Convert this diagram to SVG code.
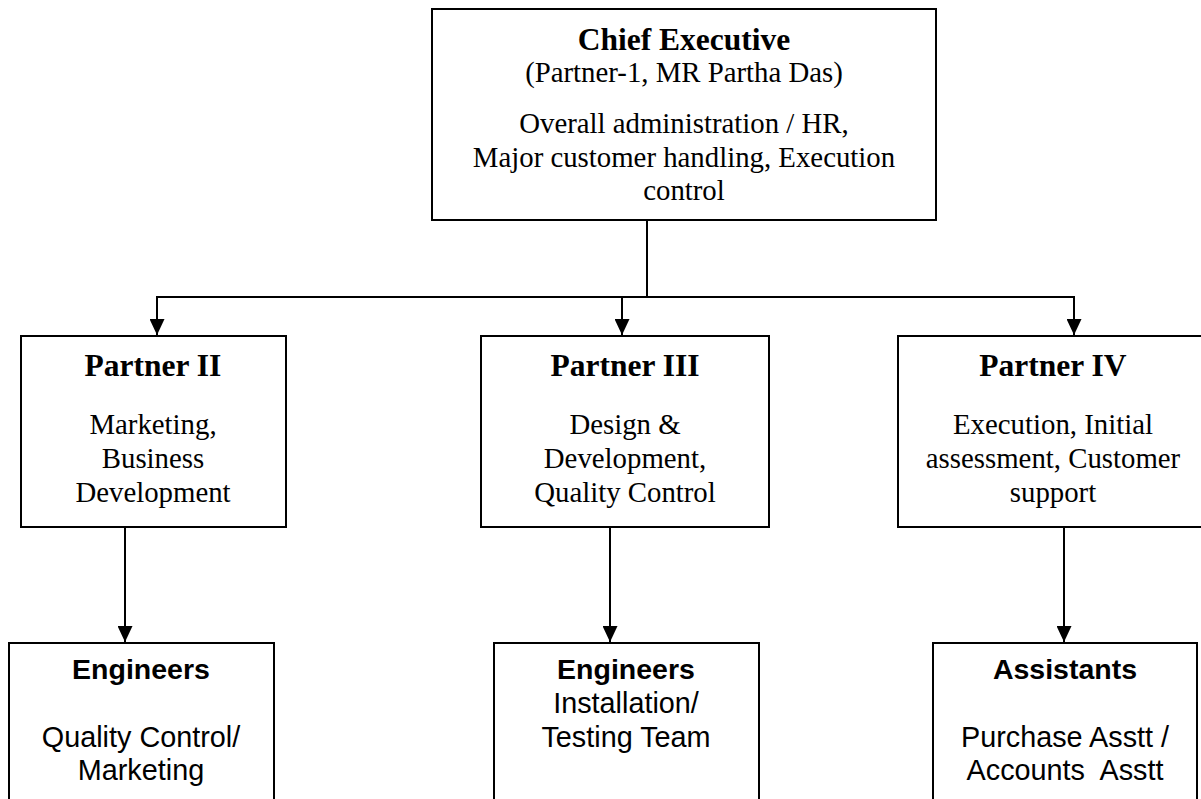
<svg xmlns="http://www.w3.org/2000/svg" width="1201" height="799" viewBox="0 0 1201 799">
<style>
.box{fill:#fff;stroke:#000;stroke-width:2}
.ln{fill:none;stroke:#000;stroke-width:2}
.sh{font-family:"Liberation Serif","Times New Roman",serif;font-weight:bold;font-size:31.5px;text-anchor:middle;fill:#000}
.sb{font-family:"Liberation Serif","Times New Roman",serif;font-size:28.8px;text-anchor:middle;fill:#000}
.ah{font-family:"Liberation Sans",Arial,sans-serif;font-weight:bold;font-size:28.5px;text-anchor:middle;fill:#000}
.ab{font-family:"Liberation Sans",Arial,sans-serif;font-size:28.8px;text-anchor:middle;fill:#000;white-space:pre}
</style>
<defs>
<marker id="arr" viewBox="0 0 16 15" refX="16" refY="7.5" markerWidth="16" markerHeight="15" markerUnits="userSpaceOnUse" orient="auto">
<path d="M0,0 L16,7.5 L0,15 z" fill="#000"/>
</marker>
</defs>
<rect width="1201" height="799" fill="#fff"/>
<g id="connectors">
<line class="ln" x1="647" y1="220" x2="647" y2="297"/>
<line class="ln" x1="156" y1="297" x2="1075" y2="297"/>
<line class="ln" x1="157" y1="297" x2="157" y2="335" marker-end="url(#arr)"/>
<line class="ln" x1="622" y1="297" x2="622" y2="335" marker-end="url(#arr)"/>
<line class="ln" x1="1074" y1="297" x2="1074" y2="335" marker-end="url(#arr)"/>
<line class="ln" x1="125" y1="527" x2="125" y2="642" marker-end="url(#arr)"/>
<line class="ln" x1="610" y1="527" x2="610" y2="642" marker-end="url(#arr)"/>
<line class="ln" x1="1064" y1="527" x2="1064" y2="642" marker-end="url(#arr)"/>
</g>
<g id="chief">
<rect class="box" x="432" y="9" width="504" height="211"/>
<text class="sh" x="684" y="50">Chief Executive</text>
<text class="sb" x="684" y="82">(Partner-1, MR Partha Das)</text>
<text class="sb" x="684" y="133">Overall administration / HR,</text>
<text class="sb" x="684" y="167">Major customer handling, Execution</text>
<text class="sb" x="684" y="200">control</text>
</g>
<g id="partner2">
<rect class="box" x="21" y="336" width="265" height="191"/>
<text class="sh" x="153" y="376">Partner II</text>
<text class="sb" x="153" y="434">Marketing,</text>
<text class="sb" x="153" y="468">Business</text>
<text class="sb" x="153" y="502">Development</text>
</g>
<g id="partner3">
<rect class="box" x="481" y="336" width="288" height="191"/>
<text class="sh" x="625" y="376">Partner III</text>
<text class="sb" x="625" y="434">Design &amp;</text>
<text class="sb" x="625" y="468">Development,</text>
<text class="sb" x="625" y="502">Quality Control</text>
</g>
<g id="partner4">
<rect class="box" x="898" y="336" width="310" height="191"/>
<text class="sh" x="1053" y="376">Partner IV</text>
<text class="sb" x="1053" y="434">Execution, Initial</text>
<text class="sb" x="1053" y="468">assessment, Customer</text>
<text class="sb" x="1053" y="502">support</text>
</g>
<g id="engineers1">
<rect class="box" x="9" y="643" width="265" height="180"/>
<text class="ah" x="141" y="679">Engineers</text>
<text class="ab" x="141" y="747">Quality Control/</text>
<text class="ab" x="141" y="780">Marketing</text>
</g>
<g id="engineers2">
<rect class="box" x="494" y="643" width="265" height="180"/>
<text class="ah" x="626" y="679">Engineers</text>
<text class="ab" x="626" y="713">Installation/</text>
<text class="ab" x="626" y="747">Testing Team</text>
</g>
<g id="assistants">
<rect class="box" x="933" y="643" width="264" height="180"/>
<text class="ah" x="1065" y="679">Assistants</text>
<text class="ab" x="1065" y="747">Purchase Asstt /</text>
<text class="ab" x="1065" y="780" xml:space="preserve">Accounts  Asstt</text>
</g>
</svg>
